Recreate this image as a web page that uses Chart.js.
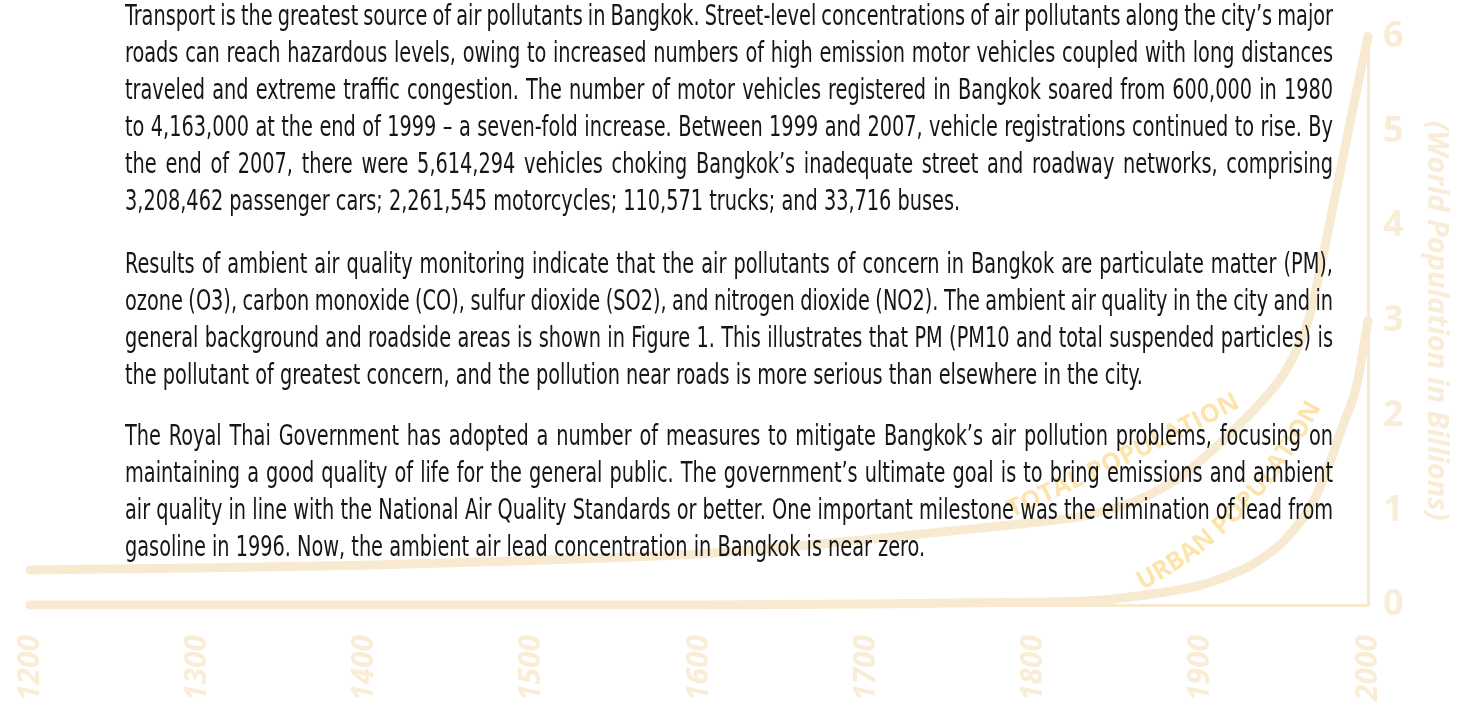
<!DOCTYPE html>
<html>
<head>
<meta charset="utf-8">
<script src="https://cdn.jsdelivr.net/npm/chart.js@4.4.1/dist/chart.umd.min.js"></script>
<style>
  html, body { margin: 0; padding: 0; background: #fff; }
  body { width: 1470px; height: 706px; position: relative; overflow: hidden; }
  #chart { position: absolute; left: 0; top: 0; }
  #copy {
    position: absolute; left: 125px; top: 0; width: 1208px; height: 706px;
    font-family: "Liberation Sans Narrow", "DejaVu Sans Condensed", sans-serif;
    font-size: 29px; color: #161616;
  }
  .line {
    position: absolute; left: 0; width: max-content;
    white-space: nowrap; line-height: 37px; transform-origin: 0 0;
  }
</style>
</head>
<body>
<canvas id="chart" width="1470" height="706"></canvas>
<div id="copy"></div>

<script>
// ================= DATA =================
const yearTicks = [1200, 1300, 1400, 1500, 1600, 1700, 1800, 1900, 2000];
const popTicks = [0, 1, 2, 3, 4, 5, 6];

const totalYears = [1200, 1300, 1400, 1500, 1600, 1700, 1750, 1800, 1830, 1850, 1870, 1890, 1906, 1920, 1936, 1950, 1960, 1965, 1977, 1989, 2000];
const totalPop   = [0.37, 0.39, 0.42, 0.47, 0.54, 0.69, 0.78, 0.87, 0.94, 1.03, 1.17, 1.38, 1.62, 1.85, 2.14, 2.45, 2.80, 3.05, 4.02, 5.07, 6.00];

const urbanYears = [1200, 1300, 1400, 1500, 1600, 1700, 1750, 1800, 1840, 1860, 1880, 1900, 1915, 1930, 1945, 1955, 1965, 1975, 1985, 1993, 2000];
const urbanPop   = [0, 0, 0, 0, 0, 0.01, 0.02, 0.03, 0.05, 0.09, 0.14, 0.21, 0.30, 0.42, 0.60, 0.78, 1.02, 1.40, 1.90, 2.30, 3.00];

const seriesNames = ["TOTAL POPULATION", "URBAN POPULATION"];
const axisTitle = "(World Population in Billions)";

// ================= TEXT =================
const para1 = [
  "Transport is the greatest source of air pollutants in Bangkok. Street-level concentrations of air pollutants along the city’s major",
  "roads can reach hazardous levels, owing to increased numbers of high emission motor vehicles coupled with long distances",
  "traveled and extreme traffic congestion. The number of motor vehicles registered in Bangkok soared from 600,000 in 1980",
  "to 4,163,000 at the end of 1999 – a seven-fold increase. Between 1999 and 2007, vehicle registrations continued to rise. By",
  "the end of 2007, there were 5,614,294 vehicles choking Bangkok’s inadequate street and roadway networks, comprising",
  "3,208,462 passenger cars; 2,261,545 motorcycles; 110,571 trucks; and 33,716 buses."
];
const para2 = [
  "Results of ambient air quality monitoring indicate that the air pollutants of concern in Bangkok are particulate matter (PM),",
  "ozone (O3), carbon monoxide (CO), sulfur dioxide (SO2), and nitrogen dioxide (NO2). The ambient air quality in the city and in",
  "general background and roadside areas is shown in Figure 1. This illustrates that PM (PM10 and total suspended particles) is",
  "the pollutant of greatest concern, and the pollution near roads is more serious than elsewhere in the city."
];
const para3 = [
  "The Royal Thai Government has adopted a number of measures to mitigate Bangkok’s air pollution problems, focusing on",
  "maintaining a good quality of life for the general public. The government’s ultimate goal is to bring emissions and ambient",
  "air quality in line with the National Air Quality Standards or better. One important milestone was the elimination of lead from",
  "gasoline in 1996. Now, the ambient air lead concentration in Bangkok is near zero."
];

// ================= COLOURS =================
const lineColor = "#F8EAD0";
const tickColor = "#FAEDD8";
const nameColor = "#FCE4AC";

// ================= TEXT LAYOUT =================
function layoutText() {
  const copy = document.getElementById("copy");
  const fullWidth = 1208;
  const firstBaseline = [25, 273, 445];
  const step = 37;

  // baseline offset inside a line box
  const probe = document.createElement("div");
  probe.className = "line";
  probe.innerHTML = 'Hg<span style="display:inline-block;width:0;height:0;vertical-align:baseline"></span>';
  copy.appendChild(probe);
  const baseOff = probe.lastChild.offsetTop;
  copy.removeChild(probe);

  let rows = [];
  [para1, para2, para3].forEach((para, p) => {
    para.forEach((txt, i) => {
      let el = document.createElement("div");
      el.className = "line";
      el.textContent = txt;
      el.style.top = (firstBaseline[p] + i * step - baseOff) + "px";
      copy.appendChild(el);
      rows.push({ el, txt, last: i === para.length - 1, w: el.getBoundingClientRect().width });
    });
  });

  // squeeze factor from the two ragged last lines (they end at 923 and 1145)
  const l2 = rows[9].w, l3 = rows[13].w;
  const k = (798 + 1020) / (l2 + l3);

  rows.forEach(r => {
    if (!r.last) {
      const spaces = r.txt.split(" ").length - 1;
      r.el.style.wordSpacing = ((fullWidth / k - r.w) / spaces) + "px";
    }
    r.el.style.transform = "scaleX(" + k + ")";
  });
}

// ================= CURVE NAMES =================
const labelPaths = [
  { text: seriesNames[0], from: [1787, 0.92], via: [1856, 1.47], to: [1924, 2.09] },
  { text: seriesNames[1], from: [1865, 0.16], via: [1931, 0.75], to: [1972, 2.09] }
];

const curveNames = {
  id: "curveNames",
  afterDatasetsDraw(c) {
    const ctx = c.ctx, xs = c.scales.x, ys = c.scales.y;
    ctx.save();
    ctx.fillStyle = nameColor;
    ctx.font = "bold 25px 'Open Sans'";
    ctx.textBaseline = "alphabetic";
    ctx.textAlign = "center";

    labelPaths.forEach(l => {
      const p0 = { x: xs.getPixelForValue(l.from[0]), y: ys.getPixelForValue(l.from[1]) };
      const p1 = { x: xs.getPixelForValue(l.via[0]), y: ys.getPixelForValue(l.via[1]) };
      const p2 = { x: xs.getPixelForValue(l.to[0]), y: ys.getPixelForValue(l.to[1]) };

      let pts = [];
      for (let i = 0; i <= 80; i++) {
        let t = i / 80, u = 1 - t;
        pts.push({
          x: u * u * p0.x + 2 * u * t * p1.x + t * t * p2.x,
          y: u * u * p0.y + 2 * u * t * p1.y + t * t * p2.y
        });
      }
      let cum = [0];
      for (let i = 1; i < pts.length; i++) {
        cum.push(cum[i - 1] + Math.hypot(pts[i].x - pts[i - 1].x, pts[i].y - pts[i - 1].y));
      }
      const len = cum[cum.length - 1];

      const chars = [...l.text];
      const widths = chars.map(ch => ctx.measureText(ch).width);
      const natural = widths.reduce((a, b) => a + b, 0);
      const gap = (len - natural) / (chars.length - 1);

      let s = 0;
      chars.forEach((ch, i) => {
        let mid = s + widths[i] / 2;
        let j = 1;
        while (j < cum.length - 1 && cum[j] < mid) j++;
        let a = pts[j - 1], b = pts[j];
        let f = (mid - cum[j - 1]) / ((cum[j] - cum[j - 1]) || 1);
        ctx.save();
        ctx.translate(a.x + (b.x - a.x) * f, a.y + (b.y - a.y) * f);
        ctx.rotate(Math.atan2(b.y - a.y, b.x - a.x));
        ctx.fillText(ch, 0, 0);
        ctx.restore();
        s += widths[i] + gap;
      });
    });
    ctx.restore();
  }
};

// ================= CHART =================
const chart = new Chart(document.getElementById("chart"), {
  type: "line",
  data: {
    datasets: [
      {
        label: seriesNames[0],
        data: totalYears.map((y, i) => ({ x: y, y: totalPop[i] })),
        borderColor: lineColor,
        borderWidth: 9,
        borderCapStyle: "round",
        pointRadius: 0,
        cubicInterpolationMode: "monotone",
        clip: false
      },
      {
        label: seriesNames[1],
        data: urbanYears.map((y, i) => ({ x: y, y: urbanPop[i] })),
        borderColor: lineColor,
        borderWidth: 9,
        borderCapStyle: "round",
        pointRadius: 0,
        cubicInterpolationMode: "monotone",
        clip: false
      }
    ]
  },
  options: {
    responsive: false,
    animation: false,
    layout: { padding: { left: 20, top: 31, right: 0, bottom: 0 } },
    plugins: {
      legend: { display: false },
      tooltip: { enabled: false }
    },
    scales: {
      x: {
        type: "linear",
        min: yearTicks[0],
        max: yearTicks[yearTicks.length - 1],
        grid: { display: false, drawTicks: false },
        border: { display: true, color: lineColor, width: 3 },
        afterBuildTicks: s => { s.ticks = yearTicks.map(v => ({ value: v })); },
        afterFit: s => { s.height = 101; },
        ticks: {
          autoSkip: false,
          minRotation: 90,
          maxRotation: 90,
          padding: 30,
          color: tickColor,
          font: { family: "Open Sans", size: 30, weight: "bold", style: "italic" },
          callback: v => String(v)
        }
      },
      y: {
        position: "right",
        min: popTicks[0],
        max: popTicks[popTicks.length - 1],
        grid: { display: false, drawTicks: false },
        border: { display: true, color: lineColor, width: 3 },
        afterBuildTicks: s => { s.ticks = popTicks.map(v => ({ value: v })); },
        afterFit: s => { s.width = 102; },
        ticks: {
          padding: 15,
          color: tickColor,
          font: { family: "Open Sans", size: 36, weight: "bold" },
          callback: v => String(v)
        },
        title: {
          display: true,
          text: axisTitle,
          color: tickColor,
          padding: { top: 16, bottom: 0 },
          font: { family: "Open Sans", size: 29, weight: "bold", style: "italic" }
        }
      }
    }
  },
  plugins: [curveNames]
});

layoutText();
</script>
</body>
</html>
